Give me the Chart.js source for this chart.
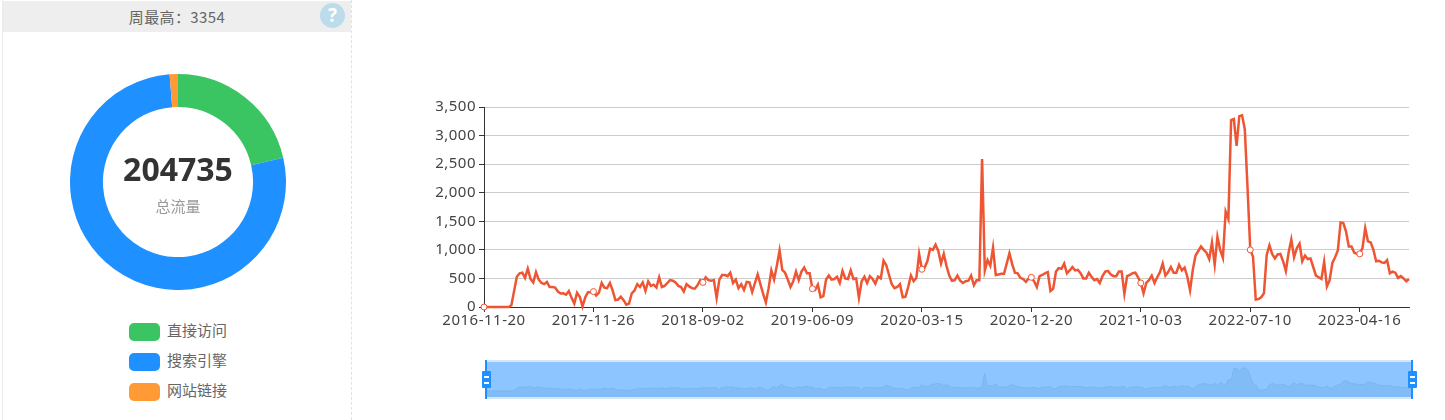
<!DOCTYPE html>
<html lang="zh">
<head>
<meta charset="utf-8">
<title>流量</title>
<script src="https://cdn.jsdelivr.net/npm/chart.js@4"></script>
<style>
html,body{margin:0;padding:0;background:#fff;width:1445px;height:420px;overflow:hidden;font-family:"Noto Sans CJK SC","Noto Sans",sans-serif}
.abs{position:absolute}
#leftLine{left:2px;top:0;width:1px;height:420px;background:#ebebeb}
#rightLine{left:351px;top:0;height:420px;border-left:1px dashed #e2e2e2}
#head{left:3px;top:1px;width:348px;height:31px;background:#eee;line-height:31px;text-align:center;font-size:15px;letter-spacing:.4px;color:#666}
#help{left:320px;top:3px;width:25px;height:25px;border-radius:50%;background:#bcdcec;color:#fff;font:bold 19px/25px "Noto Sans",sans-serif;text-align:center}
#total{left:78px;width:200px;top:147px;text-align:center;font:bold 32px/44px "Noto Sans",sans-serif;color:#333}
#totalLabel{left:78px;width:200px;top:196px;text-align:center;font-size:15px;line-height:20px;color:#999}
.swatch{position:absolute;left:129px;width:31px;height:18px;border-radius:5px}
.legendText{position:absolute;left:167px;font-size:15px;line-height:20px;color:#666}
#sliderBox{left:486px;top:360px;width:926px;height:35px;border-top:2px solid #d8e5f2;border-bottom:2px solid #d8e5f2;background:#8cc5ff}
.hLine{position:absolute;top:360px;width:2px;height:39px;background:#1e90ff}
.hGrip{position:absolute;top:371px;width:9px;height:17px;background:#1e90ff;border-radius:1px}
.hGrip i{position:absolute;left:2px;width:5px;height:1.5px;background:#fff}
</style>
</head>
<body>
<div class="abs" id="leftLine"></div>
<div class="abs" id="rightLine"></div>
<div class="abs" id="head">周最高：3354</div>
<div class="abs" id="help">?</div>
<canvas class="abs" id="donut" width="216" height="216" style="left:70px;top:74px"></canvas>
<div class="abs" id="total">204735</div>
<div class="abs" id="totalLabel">总流量</div>
<div id="legend"></div>
<canvas class="abs" id="line" width="1000" height="250" style="left:420px;top:91px"></canvas>
<div class="abs" id="sliderBox"><canvas id="mini" width="926" height="35" style="display:block"></canvas></div>
<div class="hLine" style="left:485px"></div>
<div class="hGrip" style="left:482px"><i style="top:5px"></i><i style="top:11px"></i></div>
<div class="hLine" style="left:1411px"></div>
<div class="hGrip" style="left:1408px"><i style="top:5px"></i><i style="top:11px"></i></div>
<script>
const donutLabels = ["直接访问", "搜索引擎", "网站链接"];
const donutValues = [43800, 158400, 2535];
const donutColors = ["#3ac562", "#1e90ff", "#ff9a35"];

const tickLabels = ["2016-11-20","2017-11-26","2018-09-02","2019-06-09","2020-03-15","2020-12-20","2021-10-03","2022-07-10","2023-04-16"];
const tickEvery = 40;
const yTicks = [0, 500, 1000, 1500, 2000, 2500, 3000, 3500];

const seriesValues = [
0,0,0,0,0,0,0,0,0,0,30,280,530,590,600,510,670,490,430,610,480,420,400,440,350,350,340,270,235,240,215,280,160,60,250,180,10,170,260,260,
270,200,250,420,340,330,420,290,120,130,180,120,40,60,240,290,400,350,430,280,450,370,390,340,520,350,370,420,470,460,430,370,350,270,400,360,330,320,380,470,
430,520,470,460,470,160,480,560,560,540,600,420,480,330,400,300,440,430,260,420,570,400,230,80,330,640,480,720,990,650,600,480,350,450,620,470,620,690,590,590,
320,300,390,170,190,480,550,480,490,530,420,630,500,490,640,490,500,160,450,530,420,540,490,410,530,500,810,730,560,400,330,350,400,170,180,350,550,450,510,930,
660,690,800,1020,1000,1090,980,760,930,720,550,460,470,550,460,420,450,460,550,380,470,470,2590,640,820,720,1040,560,570,580,580,760,940,750,600,590,510,490,440,500,
520,450,350,540,560,590,610,280,320,620,680,670,760,590,640,700,640,650,590,500,500,600,530,470,490,420,540,620,630,570,540,540,620,620,230,540,560,590,600,520,
420,240,420,470,550,420,520,610,760,550,610,700,600,600,740,640,690,530,290,650,900,980,1060,1000,950,840,1130,740,1230,1000,860,1670,1540,3270,3290,2820,3340,3354,3110,2090,
1000,880,130,140,170,240,910,1080,930,850,920,930,800,630,950,1180,870,1030,1110,800,900,840,850,700,550,520,490,790,360,470,770,870,990,1480,1470,1320,1060,1060,950,930,
930,1030,1380,1150,1130,1000,800,810,780,770,820,590,620,600,510,540,500,450,490
];

// Weekly date labels counted forward from each labelled tick.
const categories = seriesValues.map((_, i) => {
  const anchor = tickLabels[Math.floor(i / tickEvery)];
  const d = new Date(anchor + "T00:00:00Z");
  d.setUTCDate(d.getUTCDate() + 7 * (i % tickEvery));
  return d.toISOString().slice(0, 10);
});

const lineColor = "#ee5533";
const font = '"Noto Sans","Noto Sans CJK SC",sans-serif';
Chart.defaults.animation = false;
Chart.defaults.responsive = false;
Chart.defaults.font.family = font;

// Legend from the doughnut's categories
const legend = document.getElementById("legend");
donutLabels.forEach((name, i) => {
  const y = 323 + i * 30;
  legend.insertAdjacentHTML("beforeend",
    `<div class="swatch" style="top:${y}px;background:${donutColors[i]}"></div><div class="legendText" style="top:${y-3}px">${name}</div>`);
});

new Chart(document.getElementById("donut"), {
  type: "doughnut",
  data: { labels: donutLabels, datasets: [{ data: donutValues, backgroundColor: donutColors, borderWidth: 0 }] },
  options: { cutout: "69.5%", plugins: { legend: { display: false }, tooltip: { enabled: false } } }
});

new Chart(document.getElementById("line"), {
  type: "line",
  data: { labels: categories, datasets: [{
    data: seriesValues, borderColor: lineColor, borderWidth: 2.5, tension: 0, clip: false,
    pointBackgroundColor: "#fff", pointBorderColor: lineColor, pointBorderWidth: 1,
    pointRadius: c => c.dataIndex % tickEvery === 0 ? 3 : 0
  }] },
  options: {
    layout: { padding: { top: 16, right: 11, left: 0, bottom: 0 } },
    plugins: { legend: { display: false }, tooltip: { enabled: false } },
    scales: {
      x: {
        type: "category",
        afterBuildTicks: a => { a.ticks = a.ticks.filter(t => t.value % tickEvery === 0); },
        afterFit: a => { a.height = 34; },
        offset: false,
        grid: { drawOnChartArea: false, drawTicks: true, tickLength: 5, tickColor: "#333" },
        border: { color: "#333" },
        ticks: { autoSkip: false, maxRotation: 0, minRotation: 0, color: "#444", font: { size: 15 }, padding: 0 }
      },
      y: {
        min: 0, max: 3500,
        afterBuildTicks: a => { a.ticks = yTicks.map(v => ({ value: v })); },
        afterFit: a => { a.width = 64; },
        grid: { color: "#ccc", tickLength: 5, tickColor: "#333" },
        border: { color: "#333" },
        ticks: { color: "#444", font: { size: 15 }, padding: 3, callback: v => v.toLocaleString("en-US") }
      }
    }
  },
  plugins: [{ id: "spacing", beforeDraw: c => { c.ctx.letterSpacing = "0.5px"; } }]
});

new Chart(document.getElementById("mini"), {
  type: "line",
  data: { labels: categories, datasets: [{
    data: seriesValues, borderColor: "#7ab5ee", borderWidth: 1, tension: 0, pointRadius: 0,
    fill: "start", backgroundColor: "rgba(110,170,230,0.3)"
  }] },
  options: {
    layout: { padding: 0 },
    plugins: { legend: { display: false }, tooltip: { enabled: false } },
    scales: { x: { display: false }, y: { display: false, min: -875, max: 4229 } }
  }
});
</script>
</body>
</html>
